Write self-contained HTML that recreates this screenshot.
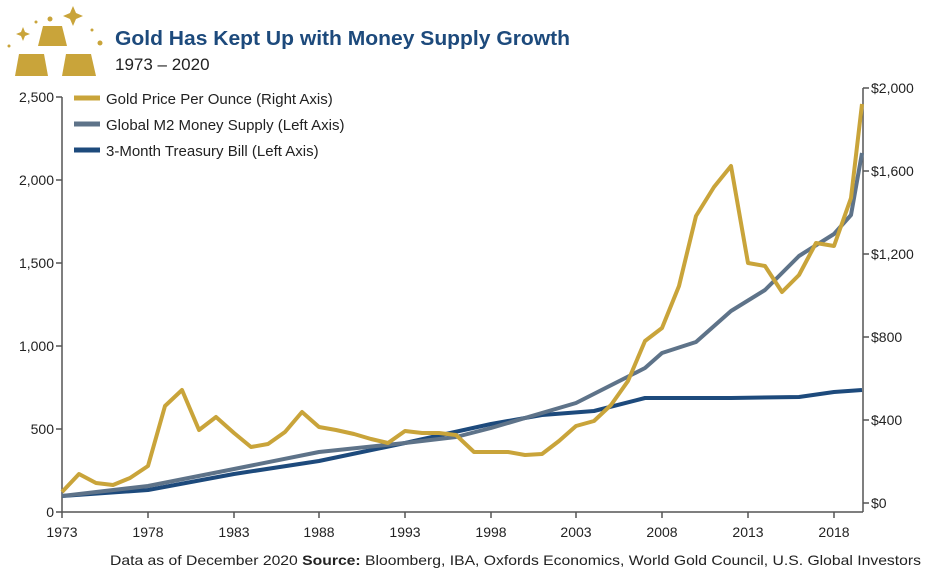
<!DOCTYPE html>
<html><head><meta charset="utf-8"><style>
body{margin:0;background:#fff;width:941px;height:577px;overflow:hidden;font-family:"Liberation Sans",sans-serif}
</style></head><body>
<svg width="941" height="577" xmlns="http://www.w3.org/2000/svg" font-family="Liberation Sans, sans-serif">
<g fill="#c9a43a">
<path d="M43 26 L62 26 L67 46 L38 46 Z"/>
<path d="M19 54 L44 54 L48 76 L15 76 Z"/>
<path d="M66 54 L91 54 L96 76 L62 76 Z"/>
<path d="M73 6 l3 7 l7 3 l-7 3 l-3 7 l-3-7 l-7-3 l7-3z"/>
<path d="M23 27 l2 5 l5 2 l-5 2 l-2 5 l-2-5 l-5-2 l5-2z"/>
<circle cx="50" cy="19" r="2.5"/><circle cx="36" cy="22" r="1.5"/><circle cx="100" cy="43" r="2.5"/><circle cx="92" cy="30" r="1.5"/><circle cx="9" cy="46" r="1.5"/>
</g>
<text x="115" y="45" font-size="20" font-weight="bold" fill="#1d4a7c" textLength="455" lengthAdjust="spacingAndGlyphs">Gold Has Kept Up with Money Supply Growth</text>
<text x="115" y="70" font-size="17" fill="#222">1973 – 2020</text>
<g stroke="#555" stroke-width="1.5" fill="none">
<path d="M62 97 V512 H863"/>
<path d="M863 88 V512"/>
<path d="M56 97h6M56 180h6M56 263h6M56 346h6M56 429h6M56 512h6"/>
<path d="M863 88h6M863 171h6M863 254h6M863 337h6M863 420h6M863 503h6"/>
<path d="M62 512v6M148 512v6M234 512v6M319 512v6M405 512v6M491 512v6M576 512v6M662 512v6M748 512v6M834 512v6"/>
</g>
<g font-size="14" fill="#222" text-anchor="end">
<text x="54" y="102">2,500</text><text x="54" y="185">2,000</text><text x="54" y="268">1,500</text><text x="54" y="351">1,000</text><text x="54" y="434">500</text><text x="54" y="517">0</text>
</g>
<g font-size="14" fill="#222">
<text x="871" y="93">$2,000</text><text x="871" y="176">$1,600</text><text x="871" y="259">$1,200</text><text x="871" y="342">$800</text><text x="871" y="425">$400</text><text x="871" y="508">$0</text>
</g>
<g font-size="14" fill="#222" text-anchor="middle">
<text x="62" y="537">1973</text><text x="148" y="537">1978</text><text x="234" y="537">1983</text><text x="319" y="537">1988</text><text x="405" y="537">1993</text><text x="491" y="537">1998</text><text x="576" y="537">2003</text><text x="662" y="537">2008</text><text x="748" y="537">2013</text><text x="834" y="537">2018</text>
</g>
<text x="110" y="565" font-size="14" fill="#222" textLength="811" lengthAdjust="spacingAndGlyphs">Data as of December 2020 <tspan font-weight="bold">Source:</tspan> Bloomberg, IBA, Oxfords Economics, World Gold Council, U.S. Global Investors</text>
<g fill="none" stroke-width="4" stroke-linejoin="round">
<polyline stroke="#1d4a7c" points="62,496 148,490 234,474 319,461 405,443 491,424 542,415 594,411 645,398 731,398 799,397 834,392 862,390"/>
<polyline stroke="#5e7389" points="62,496 148,486 234,469 319,452 405,443 456,437 491,428 576,403 645,368 662,353 696,342 731,311 765,290 799,256 834,234 851,215 862,153"/>
<polyline stroke="#c9a43a" points="62,492 79,474 96,483 113,485 130,478 148,466 165,406 182,390 199,430 216,417 234,433 251,447 268,444 285,432 302,412 319,427 336,430 354,434 371,439 388,443 405,431 422,433 439,433 456,435 474,452 491,452 508,452 525,455 542,454 559,441 576,426 594,421 611,405 628,381 645,341 662,328 679,286 696,216 714,187 731,166 748,263 765,266 782,292 799,275 816,243 834,246 851,198 862,104"/>
</g>
<g stroke-width="5">
<line x1="74" y1="98" x2="100" y2="98" stroke="#c9a43a"/>
<line x1="74" y1="124" x2="100" y2="124" stroke="#5e7389"/>
<line x1="74" y1="150" x2="100" y2="150" stroke="#1d4a7c"/>
</g>
<g font-size="15" fill="#222">
<text x="106" y="104">Gold Price Per Ounce (Right Axis)</text>
<text x="106" y="130">Global M2 Money Supply (Left Axis)</text>
<text x="106" y="156">3-Month Treasury Bill (Left Axis)</text>
</g>
</svg>
</body></html>
